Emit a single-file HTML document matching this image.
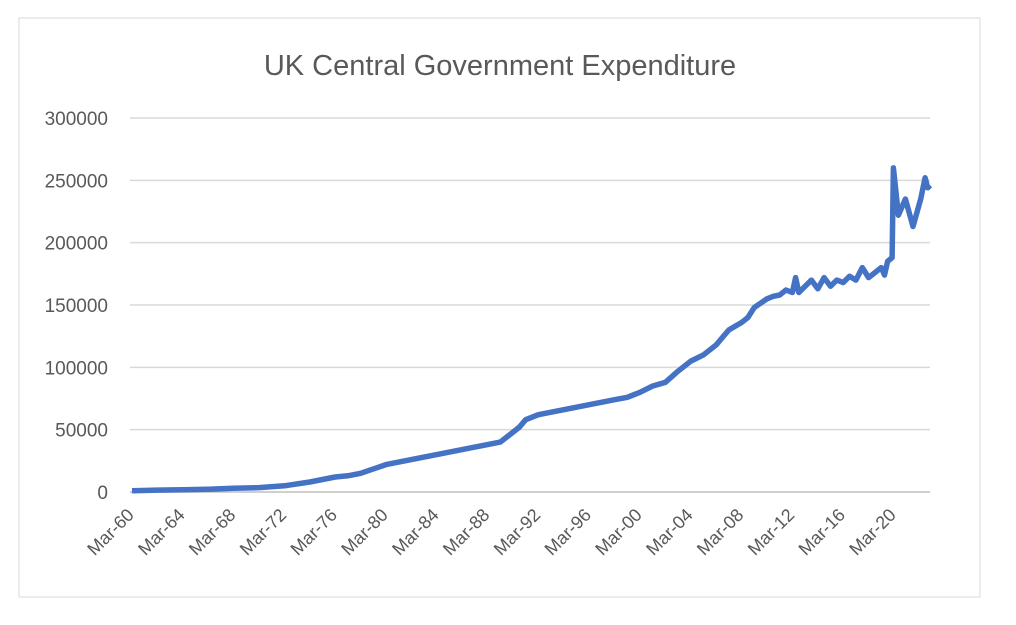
<!DOCTYPE html>
<html><head><meta charset="utf-8"><style>
body{margin:0;background:#fff;width:1016px;height:620px;overflow:hidden}
svg{font-family:"Liberation Sans",sans-serif}
</style></head><body>
<svg width="1016" height="620">
<rect x="19" y="18" width="961" height="579" fill="#fff" stroke="#d9d9d9"/>
<text x="500" y="75" text-anchor="middle" font-size="29" fill="#595959">UK Central Government Expenditure</text>
<g id="grid"></g><g id="yt"></g><g id="xt"></g>
<path id="line" fill="none" stroke="#4472c4" stroke-width="5.5" stroke-linejoin="round"/>
</svg>
<script>
const years=[1960,1962,1964,1966,1968,1970,1972,1974,1976,1977,1978,1980,1981,1982,1984,1985,1986,1988,1989,1990,1990.5,1991,1992,1993,1994,1996,1997,1998,1999,2000,2001,2002,2003,2004,2005,2006,2006.5,2007,2008,2008.5,2009,2010,2010.5,2011,2011.5,2012,2012.25,2012.5,2013,2013.5,2014,2014.5,2015,2015.5,2016,2016.5,2017,2017.5,2018,2018.5,2019,2019.25,2019.5,2019.85,2019.95,2020.35,2020.9,2021.5,2022.1,2022.45,2022.65,2022.85];
const values=[1000,1500,1800,2200,3000,3500,5000,8000,12000,13000,15000,22000,24000,26000,30000,32000,34000,38000,40000,48000,52000,58000,62000,64000,66000,70000,72000,74000,76000,80000,85000,88000,97000,105000,110000,118000,124000,130000,136000,140000,148000,155000,157000,158000,162000,160000,172000,160000,165000,170000,163000,172000,165000,170000,168000,173000,170000,180000,172000,176000,180000,174000,185000,188000,260000,222000,235000,213000,235000,252000,244000,246000];
const yTicks=[0,50000,100000,150000,200000,250000,300000];
const xTickYears=[1960,1964,1968,1972,1976,1980,1984,1988,1992,1996,2000,2004,2008,2012,2016,2020];
const xTickLabels=["Mar-60","Mar-64","Mar-68","Mar-72","Mar-76","Mar-80","Mar-84","Mar-88","Mar-92","Mar-96","Mar-00","Mar-04","Mar-08","Mar-12","Mar-16","Mar-20"];
const X=y=>132+(y-1960)*12.7, Y=v=>492-v/300000*374;
const NS="http://www.w3.org/2000/svg";
const g=document.getElementById('grid'),yt=document.getElementById('yt'),xt=document.getElementById('xt');
yTicks.forEach(t=>{
 const l=document.createElementNS(NS,'line');
 l.setAttribute('x1',130);l.setAttribute('x2',930);l.setAttribute('y1',Y(t));l.setAttribute('y2',Y(t));
 l.setAttribute('stroke',t===0?'#bfbfbf':'#d9d9d9');l.setAttribute('stroke-width',1.5);
 
 
 g.appendChild(l);
 const tx=document.createElementNS(NS,'text');
 tx.setAttribute('x',108);tx.setAttribute('y',Y(t)+7);tx.setAttribute('text-anchor','end');
 tx.setAttribute('font-size',19);tx.setAttribute('fill','#595959');tx.textContent=t;
 
 
 yt.appendChild(tx);
});
xTickYears.forEach((yr,i)=>{
 const tx=document.createElementNS(NS,'text');
 const x=X(yr)+3,y=516;
 tx.setAttribute('x',x);tx.setAttribute('y',y);tx.setAttribute('text-anchor','end');
 tx.setAttribute('transform',`rotate(-45 ${x} ${y})`);
 tx.setAttribute('font-size',18);tx.setAttribute('fill','#595959');tx.textContent=xTickLabels[i];
 
 
 xt.appendChild(tx);
});
document.getElementById('line').setAttribute('d',years.map((y,i)=>(i?'L':'M')+X(y).toFixed(1)+','+Y(values[i]).toFixed(1)).join(''));
</script>
</body></html>
